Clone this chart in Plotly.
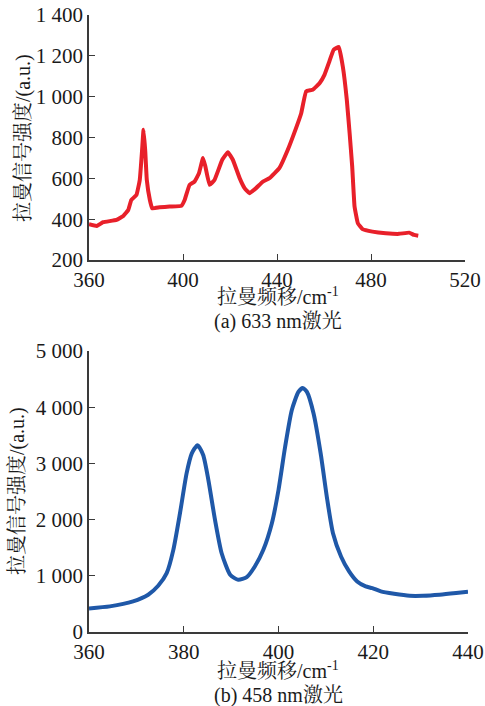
import plotly.graph_objects as go

# ---- data: (a) 633 nm excitation ----
shift_a = [360, 363.3, 366, 371.7, 374.6, 376.7, 378, 380.2, 381.6, 382.6, 383.2, 383.9, 384.6, 385.9,
           386.9, 390.1, 394.3, 399.3, 400.7, 402.8, 404.9, 406.8, 408.5, 409.5, 411.3, 413.4, 416.7,
           419.1, 421.2, 424.1, 426.2, 428.3, 431.1, 434, 436.8, 441, 444.6, 448.1, 450.3, 452.4, 455.2,
           458.1, 460.2, 462.3, 464.1, 466.3, 468, 469.7, 470.9, 472, 473, 474.4, 476.4, 480.6, 486.3,
           491.9, 496.2, 498.3, 500.1]
inten_a = [375, 367, 385, 396, 416, 445, 494, 519, 592, 740, 838, 740, 592, 494,
           453, 458, 462, 465, 494, 568, 584, 625, 699, 659, 568, 592, 691,
           728, 691, 601, 552, 527, 552, 584, 601, 650, 740, 846, 919, 1026, 1034,
           1066, 1107, 1173, 1230, 1243, 1148, 985, 821, 658, 462, 380, 351, 339, 331,
           328, 334, 323, 319]

# ---- data: (b) 458 nm excitation ----
shift_b = [360, 364.4, 369.3, 372.5, 374.6, 376.4, 377.8, 379.2, 380.6, 381.7, 382.9, 384.1, 385.2,
           386.6, 388, 389.8, 391.5, 393.3, 395, 396.8, 398.6, 400, 401.4, 402.8, 404.2, 405.1, 406,
           407.4, 408.9, 410.3, 411.5, 413.2, 414.9, 416.6, 418.4, 419.8, 421.6, 424.4, 427.7, 430.5,
           434, 437.5, 440]
inten_b = [420, 456, 544, 663, 822, 1047, 1462, 2112, 2822, 3178, 3325, 3148, 2704,
           1994, 1402, 1018, 929, 976, 1166, 1462, 1935, 2527, 3296, 3947, 4272, 4343, 4272,
           3888, 3178, 2349, 1757, 1343, 1077, 899, 811, 781, 722, 680, 645, 645,
           663, 692, 716]

xticks_a = [360, 400, 440, 480, 520]
yticks_a = [200, 400, 600, 800, 1000, 1200, 1400]
ytext_a = ["200", "400", "600", "800", "1 000", "1 200", "1 400"]
xticks_b = [360, 380, 400, 420, 440]
yticks_b = [0, 1000, 2000, 3000, 4000, 5000]
ytext_b = ["0", "1 000", "2 000", "3 000", "4 000", "5 000"]

xtitle = "拉曼频移/cm<sup>-1</sup>"
ytitle = "拉曼信号强度/(a.u.)"
cap_a = "(a) 633 nm激光"
cap_b = "(b) 458 nm激光"

W, H = 485, 706
FONT = "Liberation Serif, 'Noto Serif CJK SC', 'Noto Sans CJK SC', serif"
TXT = "#1a1a1a"
AX = "#3a3a3a"

def px(x):
    return x / W

def py(y):
    return 1 - y / H

fig = go.Figure()
fig.add_trace(go.Scatter(x=shift_a, y=inten_a, mode="lines",
                         line=dict(color="#e8202a", width=4, shape="spline", smoothing=0.3),
                         xaxis="x", yaxis="y", showlegend=False))
fig.add_trace(go.Scatter(x=shift_b, y=inten_b, mode="lines",
                         line=dict(color="#1f58a8", width=4, shape="spline", smoothing=0.6),
                         xaxis="x2", yaxis="y2", showlegend=False))

axcommon = dict(showline=True, linecolor=AX, linewidth=1.5, ticks="inside", ticklen=6,
                tickcolor=AX, tickwidth=1.3, showgrid=False, zeroline=False, automargin=False,
                tickfont=dict(family=FONT, size=21, color=TXT), mirror=False)

fig.update_layout(
    width=W, height=H, margin=dict(l=0, r=0, t=0, b=0, autoexpand=False),
    paper_bgcolor="white", plot_bgcolor="white",
    font=dict(family=FONT, color=TXT),
    xaxis=dict(domain=[px(89), px(465)], range=[360, 520], tickvals=xticks_a,
               anchor="y", **axcommon),
    yaxis=dict(domain=[py(260), py(15)], range=[200, 1400], tickvals=yticks_a,
               ticktext=ytext_a, anchor="x", **axcommon),
    xaxis2=dict(domain=[px(89), px(468)], range=[360, 440], tickvals=xticks_b,
                anchor="y2", **axcommon),
    yaxis2=dict(domain=[py(632), py(351)], range=[0, 5000], tickvals=yticks_b,
                ticktext=ytext_b, anchor="x2", **axcommon),
)

def ann(text, x, y, angle=0):
    fig.add_annotation(text=text, x=px(x), y=py(y), xref="paper", yref="paper",
                       showarrow=False, textangle=angle,
                       font=dict(family=FONT, size=20, color=TXT),
                       xanchor="center", yanchor="middle")

ann(xtitle, 278, 296)
ann(cap_a, 278, 321)
ann(ytitle, 23, 138, -90)
ann(xtitle, 278, 670)
ann(cap_b, 278, 695)
ann(ytitle, 17, 491, -90)

fig.write_html("out.html", config={"displayModeBar": False},
               post_script="document.body.style.margin='0';document.body.style.padding='0';"
                           "document.body.style.overflow='hidden';")
